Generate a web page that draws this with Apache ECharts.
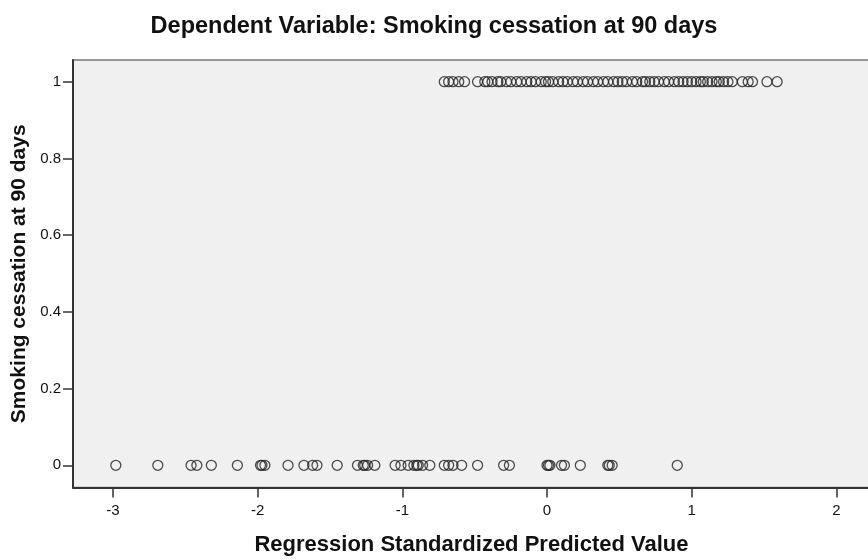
<!DOCTYPE html>
<html>
<head>
<meta charset="utf-8">
<script src="https://cdn.jsdelivr.net/npm/echarts@6/dist/echarts.min.js"></script>
<style>
html,body{margin:0;padding:0;background:#fff;}
#chart{width:868px;height:560px;}
</style>
</head>
<body>
<div id="chart"></div>
<script>
// Regression standardized predicted values, cases with cessation = 1
var quitX = [-0.71,-0.68,-0.65,-0.61,-0.57,-0.48,-0.43,-0.41,-0.38,-0.34,-0.32,-0.28,-0.25,-0.21,-0.18,
  -0.14,-0.11,-0.08,-0.04,-0.01,0.01,0.04,0.08,0.11,0.14,0.18,0.21,0.25,0.28,0.32,0.35,0.39,0.42,0.46,
  0.49,0.52,0.55,0.59,0.62,0.66,0.68,0.71,0.74,0.77,0.81,0.84,0.88,0.91,0.94,0.97,1.00,1.03,1.06,1.08,
  1.11,1.14,1.17,1.19,1.22,1.25,1.28,1.35,1.39,1.42,1.52,1.59];
// cases with cessation = 0
var notQuitX = [-2.98,-2.69,-2.46,-2.42,-2.32,-2.14,-1.98,-1.97,-1.95,-1.79,-1.68,-1.62,-1.59,-1.45,-1.31,
  -1.27,-1.26,-1.24,-1.19,-1.05,-1.01,-0.96,-0.92,-0.90,-0.89,-0.86,-0.81,-0.71,-0.68,-0.65,-0.59,-0.48,
  -0.30,-0.26,0.00,0.01,0.02,0.10,0.12,0.23,0.42,0.43,0.45,0.90];
var xTicks = [-3,-2,-1,0,1,2];
var yTicks = [0,0.2,0.4,0.6,0.8,1];
var titleText = 'Dependent Variable: Smoking cessation at 90 days';
var xName = 'Regression Standardized Predicted Value';
var yName = 'Smoking cessation at 90 days';

var points = quitX.map(function(v){return [v,1];}).concat(notQuitX.map(function(v){return [v,0];}));

var chart = echarts.init(document.getElementById('chart'), null, {renderer:'canvas'});
var font = 'Liberation Sans, Arial, sans-serif';
chart.setOption({
  backgroundColor:'#ffffff',
  animation:false,
  title:{text:titleText,left:'center',top:10,
    textStyle:{fontFamily:font,fontSize:23.5,fontWeight:'bold',color:'#111'}},
  grid:{left:73,top:60,right:-2,bottom:72.5,containLabel:false,outerBoundsMode:'none',
    show:true,backgroundColor:'#F0F0F0',borderColor:'#777',borderWidth:1.5},
  xAxis:{type:'value',min:-3.276,max:2.232,
    name:xName,nameLocation:'middle',nameGap:46,
    nameTextStyle:{fontFamily:font,fontSize:22,fontWeight:'bold',color:'#111'},
    axisLine:{show:true,onZero:false,lineStyle:{color:'#333',width:2}},
    axisTick:{show:true,length:10,lineStyle:{color:'#333',width:1.5},customValues:xTicks},
    axisLabel:{fontFamily:font,fontSize:15,color:'#111',margin:16,customValues:xTicks},
    splitLine:{show:false}},
  yAxis:{type:'value',min:-0.0579,max:1.0566,
    name:yName,nameLocation:'middle',nameGap:35,nameRotate:90,
    nameTextStyle:{fontFamily:font,fontSize:21,fontWeight:'bold',color:'#111'},
    axisLine:{show:true,onZero:false,lineStyle:{color:'#333',width:2}},
    axisTick:{show:true,length:10,lineStyle:{color:'#333',width:1.5},customValues:yTicks},
    axisLabel:{fontFamily:font,fontSize:15,color:'#111',margin:12,customValues:yTicks},
    splitLine:{show:false}},
  series:[{type:'scatter',data:points,symbol:'circle',symbolSize:10,
    itemStyle:{color:'rgba(0,0,0,0)',borderColor:'#222',borderWidth:1.3}}]
});
</script>
</body>
</html>
